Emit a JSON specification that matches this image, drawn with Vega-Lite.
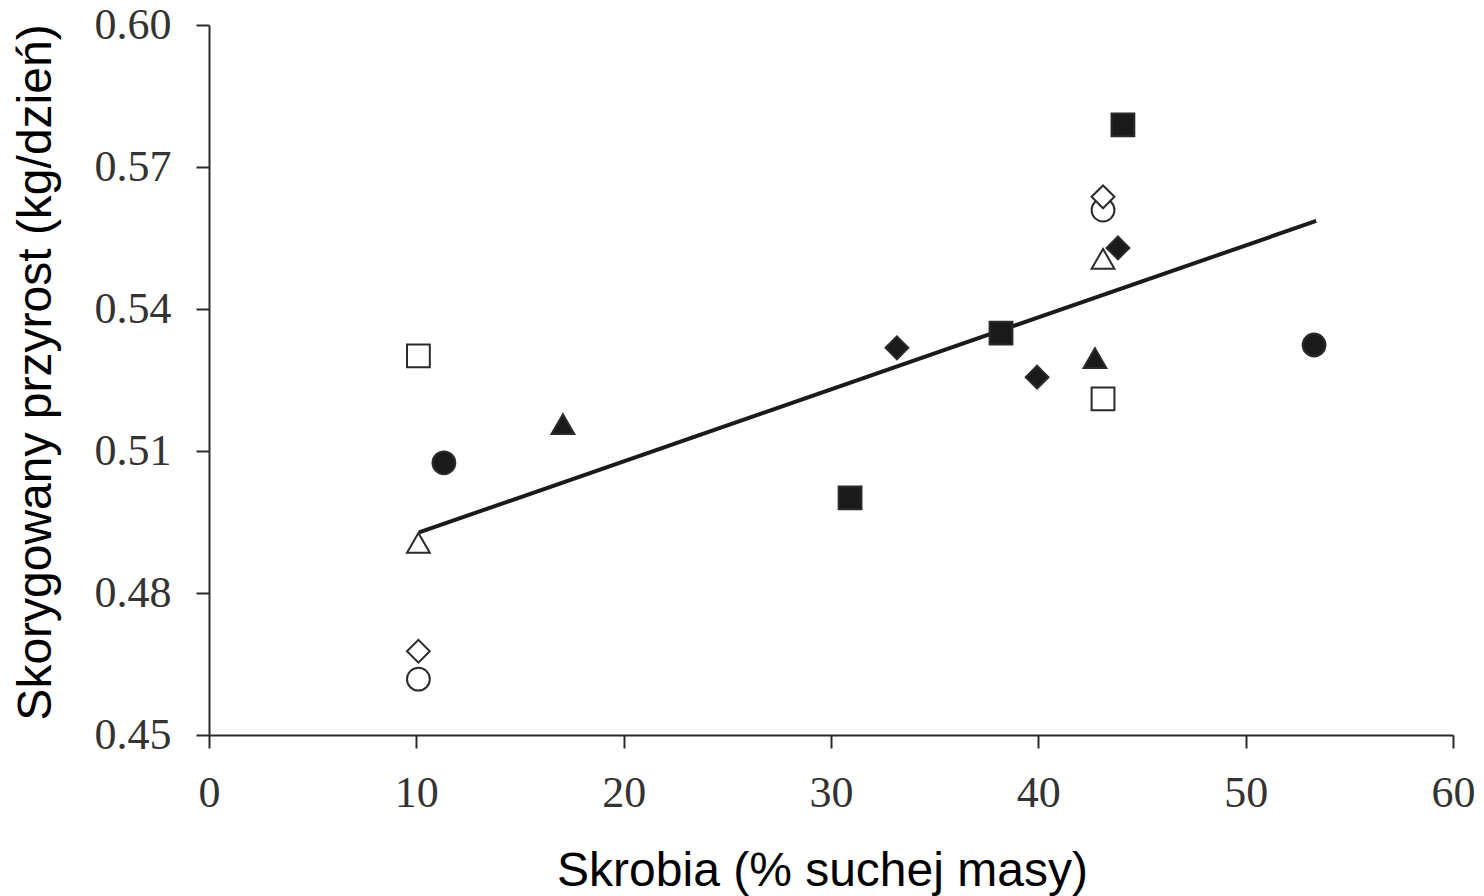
{
  "$schema": "https://vega.github.io/schema/vega-lite/v6.json",
  "width": 1244,
  "height": 710,
  "autosize": "none",
  "padding": {"left": 209, "top": 25, "right": 31, "bottom": 161},
  "background": "white",
  "config": {
    "view": {"stroke": null},
    "axis": {
      "grid": false,
      "domainColor": "#2b2b2b",
      "domainWidth": 2,
      "tickColor": "#2b2b2b",
      "tickWidth": 2,
      "tickSize": 13,
      "labelFont": "Liberation Serif",
      "labelFontSize": 44,
      "labelColor": "#333333",
      "labelOverlap": false,
      "labelFlush": false,
      "titleFont": "Liberation Sans",
      "titleFontSize": 48,
      "titleFontWeight": "normal",
      "titleColor": "#000000"
    }
  },
  "layer": [
    {
      "data": {"values": [
        {"skrobia": 10.13, "przyrost": 0.4928},
        {"skrobia": 53.4, "przyrost": 0.5586}
      ]},
      "mark": {"type": "line", "color": "#1a1a1a", "strokeWidth": 4},
      "encoding": {
        "x": {"field": "skrobia", "type": "quantitative", "scale": {"domain": [0, 60], "nice": false, "zero": false}},
        "y": {"field": "przyrost", "type": "quantitative", "scale": {"domain": [0.45, 0.6], "nice": false, "zero": false}}
      }
    },
    {
      "data": {"values": [
        {"skrobia": 10.1, "przyrost": 0.5301, "grupa": "B", "typ": "pusty"},
        {"skrobia": 10.1, "przyrost": 0.4906, "grupa": "C", "typ": "pusty"},
        {"skrobia": 10.1, "przyrost": 0.4677, "grupa": "D", "typ": "pusty"},
        {"skrobia": 10.1, "przyrost": 0.4618, "grupa": "A", "typ": "pusty"},
        {"skrobia": 11.33, "przyrost": 0.5075, "grupa": "A", "typ": "pełny"},
        {"skrobia": 17.07, "przyrost": 0.5157, "grupa": "C", "typ": "pełny"},
        {"skrobia": 30.92, "przyrost": 0.5001, "grupa": "B", "typ": "pełny"},
        {"skrobia": 33.18, "przyrost": 0.5318, "grupa": "D", "typ": "pełny"},
        {"skrobia": 38.2, "przyrost": 0.5349, "grupa": "B", "typ": "pełny"},
        {"skrobia": 39.94, "przyrost": 0.5256, "grupa": "D", "typ": "pełny"},
        {"skrobia": 42.73, "przyrost": 0.5296, "grupa": "C", "typ": "pełny"},
        {"skrobia": 43.12, "przyrost": 0.521, "grupa": "B", "typ": "pusty"},
        {"skrobia": 43.12, "przyrost": 0.5506, "grupa": "C", "typ": "pusty"},
        {"skrobia": 43.84, "przyrost": 0.5529, "grupa": "D", "typ": "pełny"},
        {"skrobia": 43.12, "przyrost": 0.5609, "grupa": "A", "typ": "pusty"},
        {"skrobia": 43.12, "przyrost": 0.5637, "grupa": "D", "typ": "pusty"},
        {"skrobia": 44.08, "przyrost": 0.5789, "grupa": "B", "typ": "pełny"},
        {"skrobia": 53.3, "przyrost": 0.5324, "grupa": "A", "typ": "pełny"}
      ]},
      "mark": {"type": "point", "filled": true, "size": 520, "strokeWidth": 2, "opacity": 1},
      "encoding": {
        "x": {
          "field": "skrobia", "type": "quantitative",
          "scale": {"domain": [0, 60], "nice": false, "zero": false},
          "axis": {
            "values": [0, 10, 20, 30, 40, 50, 60],
            "format": "d",
            "labelPadding": 23,
            "title": "Skrobia (% suchej masy)",
            "titleX": 613,
            "titleY": 150,
            "titleAlign": "center",
            "titleBaseline": "alphabetic"
          }
        },
        "y": {
          "field": "przyrost", "type": "quantitative",
          "scale": {"domain": [0.45, 0.6], "nice": false, "zero": false},
          "axis": {
            "values": [0.45, 0.48, 0.51, 0.54, 0.57, 0.6],
            "format": ".2f",
            "labelPadding": 25,
            "title": "Skorygowany przyrost (kg/dzień)",
            "titleX": -159,
            "titleY": 347,
            "titleAngle": -90,
            "titleAlign": "center",
            "titleBaseline": "alphabetic"
          }
        },
        "shape": {
          "field": "grupa", "type": "nominal",
          "scale": {"domain": ["A", "B", "C", "D"], "range": ["circle", "square", "triangle-up", "diamond"]},
          "legend": null
        },
        "fill": {
          "field": "typ", "type": "nominal",
          "scale": {"domain": ["pełny", "pusty"], "range": ["#1a1a1a", "#ffffff"]},
          "legend": null
        },
        "stroke": {"value": "#2b2b2b"}
      }
    }
  ]
}
